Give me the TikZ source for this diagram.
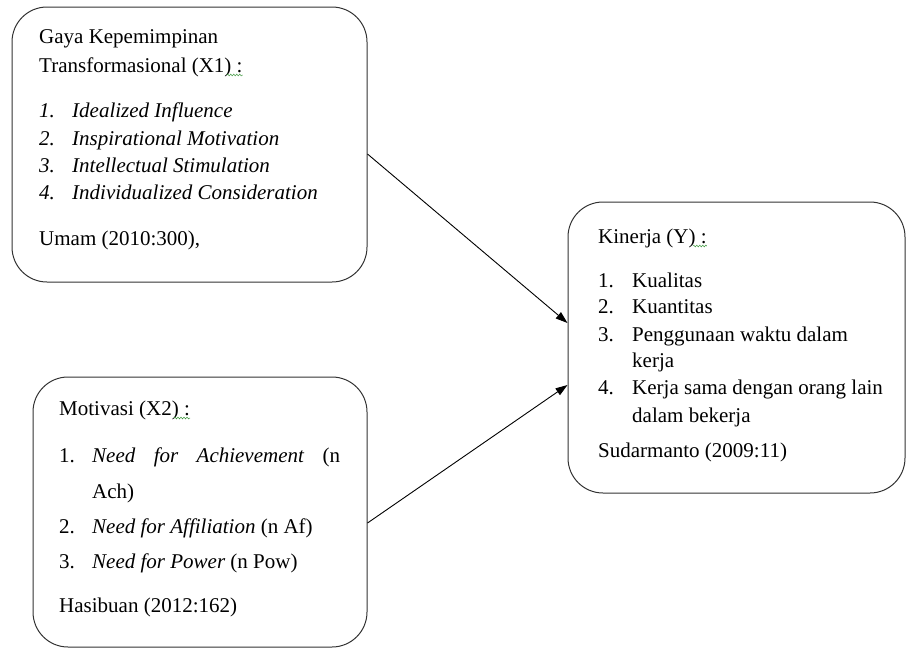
\documentclass[tikz,border=0pt]{standalone}
\usepackage{fontspec}
\setmainfont{Liberation Serif}
\usetikzlibrary{arrows.meta, decorations.pathmorphing}
\definecolor{edgegray}{RGB}{51, 51, 51}
\definecolor{spellgreen}{RGB}{60, 150, 60}
\newcommand{\boxfont}{\fontsize{21}{25}\selectfont}
\tikzset{
    panel/.style={
        rectangle, rounded corners=35pt, draw=edgegray, line width=1pt
    },
    txt/.style={anchor=base west, inner sep=0pt, font=\boxfont},
    arrow/.style={-{Triangle[length=12pt, width=8pt]}, line width=0.9pt, color=black},
    squig/.style={draw=spellgreen, line width=0.5pt, decorate,
        decoration={snake, amplitude=0.9pt, segment length=3pt}},
}
\begin{document}
\begin{tikzpicture}[x=1pt, y=-1pt]
    \useasboundingbox (0,0) rectangle (906,648);

    \node[panel, minimum width=355, minimum height=275] (gaya) at (189.5, 144.5) {};
    \node[panel, minimum width=334, minimum height=270] (mot) at (200, 512) {};
    \node[panel, minimum width=337, minimum height=291] (kin) at (736.5, 347.5) {};

    % X1 box
    \node[txt] (x1top) at (39, 43) {Gaya Kepemimpinan};
    \node[txt] (x1head) at (39, 72) {Transformasional (X1) :};
    \node[txt] (x1n1) at (39, 117) {\textit{1.}};
    \node[txt] (x1i1) at (72, 117) {\textit{Idealized Influence}};
    \node[txt] (x1n2) at (39, 145) {\textit{2.}};
    \node[txt] (x1i2) at (72, 145) {\textit{Inspirational Motivation}};
    \node[txt] (x1n3) at (39, 172) {\textit{3.}};
    \node[txt] (x1i3) at (72, 172) {\textit{Intellectual Stimulation}};
    \node[txt] (x1n4) at (39, 199) {\textit{4.}};
    \node[txt] (x1i4) at (72, 199) {\textit{Individualized Consideration}};
    \node[txt] (x1src) at (39, 245) {Umam (2010:300),};

    % X2 box
    \node[txt] (x2head) at (59, 415) {Motivasi (X2) :};
    \node[txt] (x2n1) at (59, 462) {1.};
    \node[txt] (x2i1) at (92, 462) {\hbox to 248pt{\textit{Need}\hfill\textit{for}\hfill\textit{Achievement}\hfill(n}};
    \node[txt] (x2i1b) at (92, 498) {Ach)};
    \node[txt] (x2n2) at (59, 533) {2.};
    \node[txt] (x2i2) at (92, 533) {\textit{Need for Affiliation} (n Af)};
    \node[txt] (x2n3) at (59, 568) {3.};
    \node[txt] (x2i3) at (92, 568) {\textit{Need for Power} (n Pow)};
    \node[txt] (x2src) at (59, 612) {Hasibuan (2012:162)};

    % Y box
    \node[txt] (yhead) at (598, 243) {Kinerja (Y) :};
    \node[txt] (yn1) at (598, 287) {1.};
    \node[txt] (yi1) at (632, 287) {Kualitas};
    \node[txt] (yn2) at (598, 313) {2.};
    \node[txt] (yi2) at (632, 313) {Kuantitas};
    \node[txt] (yn3) at (598, 341) {3.};
    \node[txt] (yi3) at (632, 341) {Penggunaan waktu dalam};
    \node[txt] (yi3b) at (632, 367) {kerja};
    \node[txt] (yn4) at (598, 394) {4.};
    \node[txt] (yi4) at (632, 394) {Kerja sama dengan orang lain};
    \node[txt] (yi4b) at (632, 422) {dalam bekerja};
    \node[txt] (ysrc) at (598, 457) {Sudarmanto (2009:11)};

    % spell-check marks
    \draw[squig] ([xshift=-16pt, yshift=-3pt]x1head.base east) -- ([yshift=-3pt]x1head.base east);
    \draw[squig] ([xshift=-16pt, yshift=-3pt]x2head.base east) -- ([yshift=-3pt]x2head.base east);
    \draw[squig] ([xshift=-14pt, yshift=-3pt]yhead.base east) -- ([yshift=-3pt]yhead.base east);

    \draw[arrow] ([yshift=-9.5pt]gaya.east) -- ([yshift=24.5pt]kin.west);
    \draw[arrow] ([yshift=-11pt]mot.east) -- ([yshift=-37.5pt]kin.west);
\end{tikzpicture}
\end{document}
